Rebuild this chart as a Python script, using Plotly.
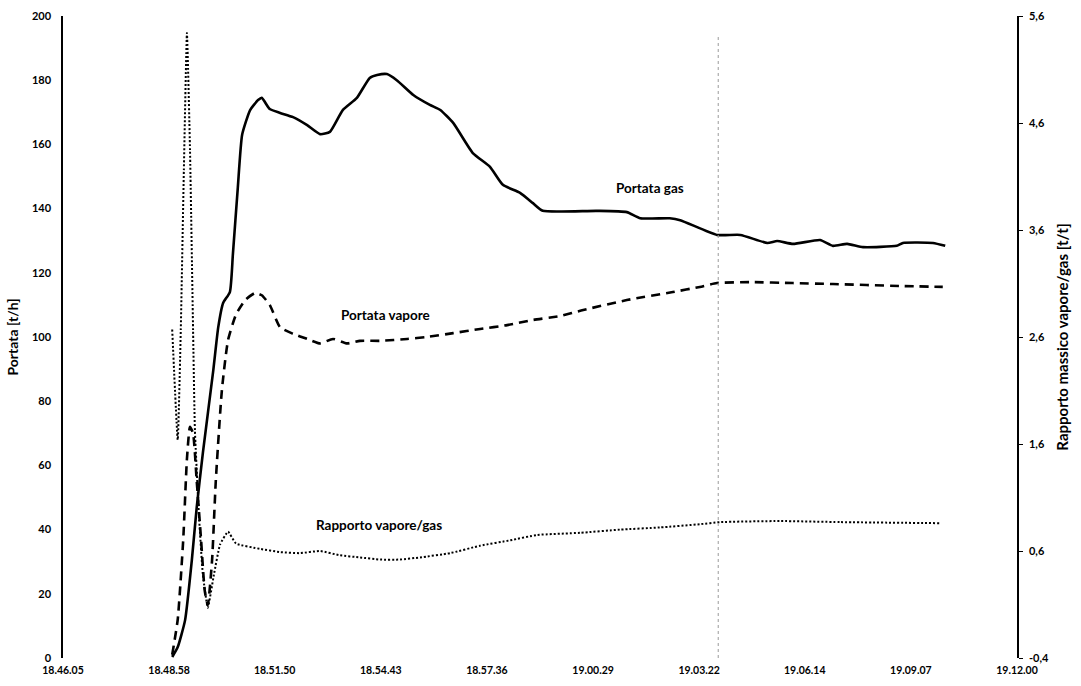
import plotly.graph_objects as go

DAY = "2012-01-01 "

# Portata gas [t/h]
gas_time = ["18:49:03", "18:49:12", "18:49:24", "18:49:35", "18:49:43", "18:49:53",
            "18:50:10", "18:50:18", "18:50:26", "18:50:37", "18:50:42", "18:50:50",
            "18:50:57", "18:51:10", "18:51:23", "18:51:29", "18:51:42", "18:51:59",
            "18:52:20", "18:52:43", "18:53:04", "18:53:20", "18:53:41", "18:54:04",
            "18:54:25", "18:54:37", "18:54:53", "18:55:09", "18:55:36", "18:56:03",
            "18:56:20", "18:56:41", "18:57:13", "18:57:41", "18:58:02", "18:58:30",
            "18:58:51", "18:59:07", "19:00:35", "19:01:24", "19:01:46", "19:02:34",
            "19:02:51", "19:03:51", "19:04:29", "19:05:13", "19:05:29", "19:05:55",
            "19:06:39", "19:07:00", "19:07:23", "19:07:49", "19:08:44", "19:08:54",
            "19:09:43", "19:10:03"]
gas_flow = [0.3, 3.4, 11.8, 30.5, 47.0, 63.9,
            89.7, 103.0, 110.6, 114.0, 126.0, 146.7,
            163.0, 170.7, 173.8, 174.5, 171.0, 169.8,
            168.5, 166.0, 163.2, 163.9, 170.7, 174.5,
            180.7, 181.6, 181.9, 180.0, 175.4, 172.3,
            170.7, 166.7, 157.3, 153.0, 147.4, 144.9,
            141.7, 139.3, 139.3, 138.9, 137.0, 137.0,
            136.4, 131.8, 131.8, 129.3, 129.9, 129.0,
            130.2, 128.4, 129.0, 128.0, 128.4, 129.3,
            129.3, 128.4]

# Portata vapore [t/h]
steam_time = ["18:49:03", "18:49:12", "18:49:21", "18:49:27", "18:49:32", "18:49:37",
              "18:49:43", "18:49:50", "18:49:56", "18:50:01", "18:50:08", "18:50:14",
              "18:50:24", "18:50:34", "18:50:47", "18:51:02", "18:51:18", "18:51:29",
              "18:51:42", "18:51:59", "18:52:20", "18:52:43", "18:53:04", "18:53:25",
              "18:53:48", "18:54:09", "18:54:42", "18:55:26", "18:55:58", "18:56:41",
              "18:57:25", "18:58:09", "18:58:51", "18:59:35", "19:00:13", "19:01:24",
              "19:02:39", "19:03:23", "19:03:51", "19:04:45", "19:05:55", "19:07:00",
              "19:08:49", "19:09:59"]
steam_flow = [1.0, 12.0, 37.0, 62.0, 72.0, 70.0,
              55.0, 37.0, 21.0, 16.5, 30.5, 55.0,
              83.5, 99.0, 107.0, 111.5, 113.7, 113.0,
              110.0, 103.0, 101.0, 99.4, 98.0, 99.4,
              98.0, 98.8, 98.8, 99.4, 100.0, 101.2,
              102.5, 103.7, 105.3, 106.5, 108.4, 111.5,
              114.0, 115.6, 116.8, 117.1, 116.8, 116.5,
              115.9, 115.6]

# Rapporto massico vapore/gas [t/t]
ratio_time = ["18:49:03", "18:49:12", "18:49:17", "18:49:22", "18:49:27", "18:49:32",
              "18:49:37", "18:49:40", "18:49:47", "18:49:53", "18:50:01", "18:50:11",
              "18:50:21", "18:50:34", "18:50:47", "18:51:26", "18:51:59", "18:52:31",
              "18:53:04", "18:53:36", "18:54:09", "18:54:42", "18:55:14", "18:55:47",
              "18:56:36", "18:57:25", "18:58:14", "18:58:58", "19:00:08", "19:01:13",
              "19:02:18", "19:03:23", "19:03:56", "19:05:34", "19:07:12", "19:09:55"]
ratio = [2.67, 1.64, 2.67, 4.16, 5.44, 4.35,
         2.67, 1.73, 0.89, 0.38, 0.07, 0.38,
         0.66, 0.78, 0.67, 0.62, 0.59, 0.58,
         0.60, 0.56, 0.54, 0.52, 0.52, 0.54,
         0.58, 0.65, 0.70, 0.75, 0.77, 0.80,
         0.82, 0.85, 0.87, 0.88, 0.87, 0.86]

# Axes
x_start, x_end = "18:46:05", "19:12:00"
x_ticks = ["18:46:05", "18:48:58", "18:51:50", "18:54:43", "18:57:36",
           "19:00:29", "19:03:22", "19:06:14", "19:09:07", "19:12:00"]
x_labels = [t.replace(":", ".") for t in x_ticks]
y_ticks = [0, 20, 40, 60, 80, 100, 120, 140, 160, 180, 200]
y2_ticks = [-0.4, 0.6, 1.6, 2.6, 3.6, 4.6, 5.6]
y2_labels = ["-0,4", "0,6", "1,6", "2,6", "3,6", "4,6", "5,6"]
event_time = "19:03:53"

FONT = "Lato"


def stamp(times):
    return [DAY + t for t in times]


def txt(size):
    return dict(family=FONT, size=size, color="black", weight="bold")


fig = go.Figure()
fig.add_trace(go.Scatter(x=stamp(gas_time), y=gas_flow, mode="lines",
                         line=dict(color="black", width=2.6, shape="spline",
                                   smoothing=0.5),
                         name="Portata gas"))
fig.add_trace(go.Scatter(x=stamp(steam_time), y=steam_flow, mode="lines",
                         line=dict(color="black", width=2.6, dash="9px,6px",
                                   shape="spline", smoothing=0.5),
                         name="Portata vapore"))
fig.add_trace(go.Scatter(x=stamp(ratio_time), y=ratio, mode="lines", yaxis="y2",
                         line=dict(color="black", width=2, dash="2px,2px",
                                   shape="spline", smoothing=0.4),
                         name="Rapporto vapore/gas"))

# faint vertical marker
fig.add_shape(type="line", xref="x", yref="paper",
              x0=DAY + event_time, x1=DAY + event_time, y0=0.0, y1=0.97,
              line=dict(color="#9a9a9a", width=1, dash="dot"))

fig.add_annotation(x=DAY + "19:02:02", y=146.5, text="Portata gas", showarrow=False,
                   font=txt(13.5))
fig.add_annotation(x=DAY + "18:54:51", y=107, text="Portata vapore", showarrow=False,
                   font=txt(13.5))
fig.add_annotation(x=DAY + "18:54:40", y=41.5, text="Rapporto vapore/gas",
                   showarrow=False, font=txt(13.5))

fig.update_layout(
    width=1081, height=686,
    margin=dict(l=63, r=64, t=16, b=28, autoexpand=False),
    paper_bgcolor="white", plot_bgcolor="white",
    showlegend=False,
    font=dict(family=FONT, size=10, color="black"),
    xaxis=dict(
        type="date", range=[DAY + x_start, DAY + x_end],
        tickmode="array", tickvals=stamp(x_ticks), ticktext=x_labels,
        showgrid=False, zeroline=False, showline=False, ticks="",
        tickfont=txt(10.5), automargin=False,
        ticklabelstandoff=4,
    ),
    yaxis=dict(
        range=[0, 200], tickmode="array", tickvals=y_ticks,
        showgrid=False, zeroline=False, showline=True, linecolor="black",
        linewidth=1.5, ticks="", ticklabelstandoff=8, automargin=False,
        tickfont=txt(11),
        title=dict(text="Portata [t/h]", standoff=10, font=txt(14)),
    ),
    yaxis2=dict(
        overlaying="y", side="right", range=[-0.4, 5.6],
        tickmode="array", tickvals=y2_ticks, ticktext=y2_labels,
        showgrid=False, zeroline=False, showline=True, linecolor="black",
        linewidth=1.5, ticks="outside", ticklen=4, tickcolor="black",
        ticklabelstandoff=4, automargin=False,
        tickfont=txt(11),
        title=dict(text="Rapporto massico vapore/gas [t/t]", standoff=9,
                   font=txt(15)),
    ),
)

fig.write_html("out.html")
